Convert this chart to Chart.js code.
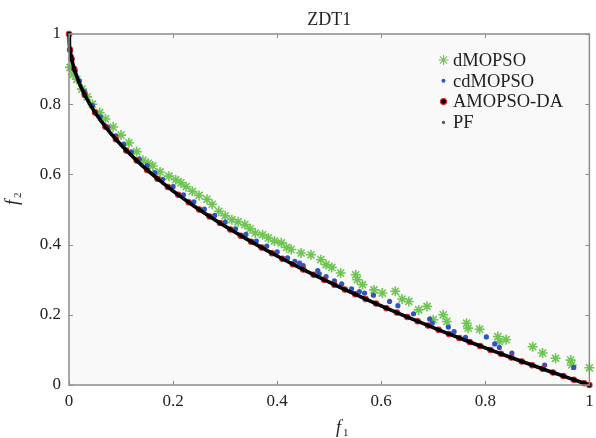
<!DOCTYPE html>
<html>
<head>
<meta charset="utf-8">
<script src="https://cdn.jsdelivr.net/npm/chart.js@4"></script>
<style>
  body { margin: 0; background: #ffffff; }
  #wrap { width: 596px; height: 438px; }
</style>
</head>
<body>
<div id="wrap"><canvas id="zdt1" width="596" height="438"></canvas></div>
<script>
// tick labels
const xTicks = [0, 0.2, 0.4, 0.6, 0.8, 1];
const yTicks = [0, 0.2, 0.4, 0.6, 0.8, 1];

// dMOPSO (green stars)
const dmopsoX = [0.002, 0.008, 0.015, 0.025, 0.035, 0.045, 0.059, 0.07, 0.085, 0.10, 0.115, 0.13, 0.142, 0.152, 0.161, 0.175, 0.192, 0.205, 0.215, 0.225, 0.237, 0.25, 0.265, 0.275, 0.288, 0.30, 0.313, 0.325, 0.338, 0.348, 0.358, 0.372, 0.383, 0.395, 0.408, 0.418, 0.427, 0.446, 0.465, 0.484, 0.494, 0.505, 0.522, 0.551, 0.554, 0.564, 0.586, 0.602, 0.627, 0.640, 0.653, 0.672, 0.688, 0.700, 0.719, 0.726, 0.764, 0.767, 0.789, 0.824, 0.827, 0.840, 0.891, 0.910, 0.935, 0.964, 0.966, 1.0];
const dmopsoY = [0.905, 0.885, 0.871, 0.843, 0.821, 0.800, 0.776, 0.758, 0.735, 0.712, 0.690, 0.665, 0.640, 0.632, 0.624, 0.607, 0.595, 0.585, 0.576, 0.565, 0.552, 0.540, 0.529, 0.515, 0.495, 0.482, 0.471, 0.465, 0.457, 0.445, 0.433, 0.428, 0.419, 0.410, 0.405, 0.392, 0.386, 0.376, 0.371, 0.357, 0.343, 0.335, 0.319, 0.314, 0.300, 0.286, 0.271, 0.262, 0.267, 0.245, 0.238, 0.214, 0.224, 0.186, 0.200, 0.181, 0.176, 0.162, 0.159, 0.138, 0.124, 0.129, 0.109, 0.091, 0.076, 0.071, 0.057, 0.049];

// cdMOPSO (blue dots)
const cdmopsoX = [0.005, 0.012, 0.02, 0.03, 0.045, 0.06, 0.075, 0.09, 0.105, 0.12, 0.135, 0.15, 0.165, 0.18, 0.2, 0.22, 0.24, 0.26, 0.28, 0.3, 0.32, 0.34, 0.36, 0.38, 0.40, 0.42, 0.434, 0.443, 0.450, 0.478, 0.481, 0.494, 0.510, 0.524, 0.543, 0.558, 0.568, 0.585, 0.616, 0.632, 0.662, 0.693, 0.698, 0.729, 0.740, 0.762, 0.802, 0.818, 0.827, 0.851, 0.914, 0.970];
const cdmopsoY = [0.935, 0.896, 0.866, 0.835, 0.796, 0.764, 0.735, 0.710, 0.686, 0.664, 0.644, 0.625, 0.605, 0.586, 0.565, 0.542, 0.522, 0.501, 0.483, 0.464, 0.445, 0.429, 0.410, 0.396, 0.379, 0.362, 0.352, 0.347, 0.340, 0.326, 0.317, 0.309, 0.297, 0.288, 0.274, 0.266, 0.262, 0.256, 0.238, 0.226, 0.203, 0.188, 0.176, 0.165, 0.152, 0.136, 0.137, 0.117, 0.107, 0.091, 0.057, 0.050];

// AMOPSO-DA (red edged black dots)
const amopsoX = [0, 0.002, 0.005, 0.01, 0.03, 0.05, 0.07, 0.09, 0.11, 0.13, 0.15, 0.17, 0.19, 0.21, 0.23, 0.25, 0.27, 0.29, 0.31, 0.33, 0.35, 0.37, 0.39, 0.41, 0.43, 0.45, 0.47, 0.49, 0.51, 0.53, 0.55, 0.57, 0.59, 0.61, 0.63, 0.65, 0.67, 0.69, 0.71, 0.73, 0.75, 0.77, 0.79, 0.81, 0.83, 0.85, 0.87, 0.89, 0.91, 0.93, 0.95, 0.97, 0.99, 1];
const amopsoY = [1, 0.955, 0.929, 0.9, 0.8268, 0.7764, 0.7354, 0.7, 0.6683, 0.6394, 0.6127, 0.5877, 0.5641, 0.5417, 0.5204, 0.5, 0.4804, 0.4615, 0.4432, 0.4255, 0.4084, 0.3917, 0.3755, 0.3597, 0.3443, 0.3292, 0.3144, 0.3, 0.2859, 0.272, 0.2584, 0.245, 0.2319, 0.219, 0.2063, 0.1938, 0.1815, 0.1693, 0.1574, 0.1456, 0.134, 0.1225, 0.1112, 0.1, 0.089, 0.078, 0.0673, 0.0566, 0.0461, 0.0356, 0.0253, 0.0151, 0.005, 0];

// PF (true front)
const pfX = [0, 0.0005, 0.001, 0.002, 0.003, 0.005, 0.01, 0.02, 0.03, 0.04, 0.05, 0.06, 0.08, 0.10, 0.12, 0.14, 0.16, 0.18, 0.20, 0.22, 0.24, 0.26, 0.28, 0.30, 0.32, 0.34, 0.36, 0.38, 0.40, 0.42, 0.44, 0.46, 0.48, 0.50, 0.52, 0.54, 0.56, 0.58, 0.60, 0.62, 0.64, 0.66, 0.68, 0.70, 0.72, 0.74, 0.76, 0.78, 0.80, 0.82, 0.84, 0.86, 0.88, 0.90, 0.92, 0.94, 0.96, 0.98, 1];
const pfY = [1, 0.978, 0.968, 0.955, 0.945, 0.929, 0.9, 0.8586, 0.8268, 0.8, 0.7764, 0.7551, 0.7172, 0.6838, 0.6536, 0.6258, 0.6, 0.5757, 0.5528, 0.531, 0.5101, 0.4901, 0.4708, 0.4523, 0.4343, 0.4169, 0.4, 0.3836, 0.3675, 0.3519, 0.3367, 0.3218, 0.3072, 0.2929, 0.2789, 0.2652, 0.2517, 0.2384, 0.2254, 0.2126, 0.2, 0.1876, 0.1754, 0.1633, 0.1515, 0.1398, 0.1282, 0.1168, 0.1056, 0.0945, 0.0835, 0.0726, 0.0619, 0.0513, 0.0408, 0.0305, 0.0202, 0.0101, 0];

function toPoints(xs, ys) {
    return xs.map((x, i) => ({ x: x, y: ys[i] }));
}

const serif = '"Liberation Serif", "Times New Roman", serif';
const frameColor = '#8c8c8c';

// fondo gris del area y marco con ticks hacia dentro
const framePlugin = {
    id: 'frame',
    beforeDraw(chart) {
        const a = chart.chartArea;
        const ctx = chart.ctx;
        ctx.save();
        ctx.fillStyle = '#f9f9f9';
        ctx.fillRect(a.left, a.top, a.right - a.left, a.bottom - a.top);
        ctx.restore();
    },
    afterDraw(chart) {
        const a = chart.chartArea;
        const ctx = chart.ctx;
        const xs = chart.scales.x, ys = chart.scales.y;
        ctx.save();
        ctx.strokeStyle = frameColor;
        ctx.lineWidth = 1.5;
        ctx.strokeRect(a.left, a.top, a.right - a.left, a.bottom - a.top);
        ctx.lineWidth = 1;
        ctx.beginPath();
        xTicks.forEach(v => {
            const px = Math.round(xs.getPixelForValue(v)) + 0.5;
            ctx.moveTo(px, a.bottom); ctx.lineTo(px, a.bottom - 4);
            ctx.moveTo(px, a.top); ctx.lineTo(px, a.top + 4);
        });
        yTicks.forEach(v => {
            const py = Math.round(ys.getPixelForValue(v)) + 0.5;
            ctx.moveTo(a.left, py); ctx.lineTo(a.left + 4, py);
            ctx.moveTo(a.right, py); ctx.lineTo(a.right - 4, py);
        });
        ctx.stroke();

        // titulo
        ctx.fillStyle = '#222';
        ctx.font = '18px ' + serif;
        ctx.textAlign = 'center';
        ctx.textBaseline = 'alphabetic';
        ctx.fillText('ZDT1', (a.left + a.right) / 2, 25);

        // f1
        ctx.textAlign = 'left';
        ctx.font = 'italic 18px ' + serif;
        ctx.fillText('f', 336, 433);
        ctx.font = '11px ' + serif;
        ctx.fillText('1', 343, 436);

        // f2
        ctx.translate(18, 205);
        ctx.rotate(-Math.PI / 2);
        ctx.font = 'italic 18px ' + serif;
        ctx.fillText('f', 0, 0);
        ctx.font = '11px ' + serif;
        ctx.fillText('2', 7, 3);
        ctx.restore();

        // leyenda
        ctx.save();
        const order = ['dMOPSO', 'cdMOPSO', 'AMOPSO-DA', 'PF'];
        order.forEach((name, i) => {
            const ds = chart.data.datasets.find(d => d.label === name);
            const cy = 60 + i * 20.8;
            ctx.fillStyle = ds.legendFill;
            ctx.strokeStyle = ds.legendStroke;
            Chart.helpers.drawPoint(ctx, {
                pointStyle: ds.pointStyle,
                radius: ds.legendRadius,
                borderWidth: ds.pointBorderWidth,
                rotation: 0
            }, 443.5, cy);
            ctx.fillStyle = '#222';
            ctx.font = '18.5px ' + serif;
            ctx.textAlign = 'left';
            ctx.textBaseline = 'middle';
            ctx.fillText(name, 453, cy + 1);
        });
        ctx.restore();
    }
};

const tickLabel = v => String(Math.round(v * 10) / 10);

const ctx = document.getElementById('zdt1').getContext('2d');
const chart = new Chart(ctx, {
    type: 'scatter',
    data: {
        datasets: [{
            label: 'dMOPSO',
            data: toPoints(dmopsoX, dmopsoY),
            pointStyle: 'star',
            pointRadius: 5,
            pointBorderWidth: 1.6,
            borderColor: '#6fc552',
            backgroundColor: '#6fc552',
            legendFill: '#6fc552', legendStroke: '#6fc552', legendRadius: 5,
            order: 3,
            clip: false
        }, {
            label: 'cdMOPSO',
            data: toPoints(cdmopsoX, cdmopsoY),
            pointStyle: 'circle',
            pointRadius: 2.6,
            pointBorderWidth: 0,
            borderColor: '#2f55c4',
            backgroundColor: '#2f55c4',
            legendFill: '#2f55c4', legendStroke: '#2f55c4', legendRadius: 2,
            order: 2,
            clip: false
        }, {
            label: 'AMOPSO-DA',
            data: toPoints(amopsoX, amopsoY),
            pointStyle: 'circle',
            pointRadius: 2.7,
            pointBorderWidth: 1.1,
            borderColor: '#e0262a',
            backgroundColor: '#000000',
            legendFill: '#000000', legendStroke: '#e0262a', legendRadius: 3,
            order: 1,
            clip: false
        }, {
            label: 'PF',
            data: toPoints(pfX, pfY),
            showLine: true,
            borderWidth: 3.6,
            borderColor: '#000000',
            backgroundColor: '#111111',
            pointStyle: 'circle',
            pointRadius: 1.5,
            pointBorderWidth: 0,
            legendFill: '#555555', legendStroke: '#555555', legendRadius: 1.6,
            order: 0,
            clip: false
        }]
    },
    options: {
        responsive: false,
        animation: false,
        events: [],
        layout: { padding: { top: 34, right: 2, left: 0, bottom: 0 } },
        plugins: {
            legend: { display: false },
            title: { display: false },
            tooltip: { enabled: false }
        },
        scales: {
            x: {
                type: 'linear',
                min: 0,
                max: 1,
                afterBuildTicks: s => { s.ticks = xTicks.map(v => ({ value: v })); },
                afterFit: s => { s.height = 53; s.paddingLeft = 0; s.paddingRight = 0; },
                grid: { display: false, drawTicks: false },
                border: { display: false },
                ticks: {
                    padding: 6,
                    color: '#222',
                    font: { family: serif, size: 17 },
                    maxRotation: 0,
                    callback: tickLabel
                }
            },
            y: {
                type: 'linear',
                min: 0,
                max: 1,
                afterBuildTicks: s => { s.ticks = yTicks.map(v => ({ value: v })); },
                afterFit: s => { s.width = 69; s.paddingTop = 0; s.paddingBottom = 0; },
                grid: { display: false, drawTicks: false },
                border: { display: false },
                ticks: {
                    padding: 8,
                    color: '#222',
                    font: { family: serif, size: 17 },
                    callback: tickLabel
                }
            }
        }
    },
    plugins: [framePlugin]
});
</script>
</body>
</html>
